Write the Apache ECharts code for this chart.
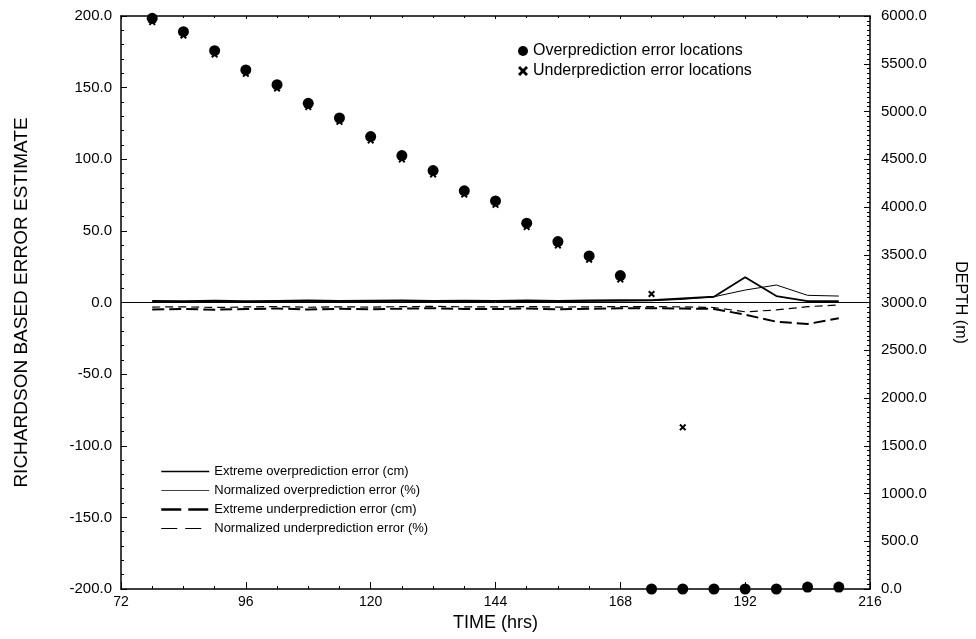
<!DOCTYPE html>
<html>
<head>
<meta charset="utf-8">
<script src="https://cdn.jsdelivr.net/npm/echarts@6/dist/echarts.min.js"></script>
<style>
  html, body { margin: 0; padding: 0; background: #fff; }
  #main { width: 976px; height: 639px; }
</style>
</head>
<body>
<div id="main"></div>
<script>
// sample times (hrs)
var hours = [78, 84, 90, 96, 102, 108, 114, 120, 126, 132, 138, 144, 150, 156, 162, 168, 174, 180, 186, 192, 198, 204, 210]

// error estimates (left axis)
var extremeOver = [1.2, 1.0, 1.3, 1.0, 1.2, 1.4, 1.1, 1.3, 1.5, 1.2, 1.3, 1.1, 1.4, 1.2, 1.5, 1.6, 1.7, 2.9, 4.0, 17.6, 4.5, 1.0, 1.0]
var normOver = [0.6, 0.5, 0.7, 0.5, 0.6, 0.8, 0.6, 0.7, 0.8, 0.6, 0.7, 0.6, 0.7, 0.6, 0.8, 0.9, 1.2, 2.2, 4.0, 8.7, 12.2, 5.0, 4.5]
var extremeUnder = [-4.8, -4.5, -5.0, -4.6, -4.2, -4.9, -4.4, -4.7, -4.3, -4.0, -4.5, -4.6, -4.2, -4.8, -4.4, -4.1, -4.0, -4.2, -4.5, -8.5, -13.4, -15.0, -11.0]
var normUnder = [-3.2, -3.0, -3.5, -3.1, -2.8, -3.3, -3.0, -3.2, -2.9, -2.7, -3.0, -3.1, -2.8, -3.2, -3.0, -2.8, -2.9, -3.0, -3.5, -6.5, -5.2, -2.9, -1.7]

// error locations (right axis, depth m)
var overDepth = [5976, 5836, 5637, 5435, 5281, 5086, 4932, 4737, 4538, 4381, 4170, 4063, 3830, 3638, 3488, 3282, 0, 0, 0, 0, 0, 20, 20]
var underDepth = [5936, 5796, 5597, 5395, 5241, 5046, 4892, 4697, 4498, 4341, 4130, 4023, 3790, 3598, 3448, 3242, 3089, 1693, 0, 0, 0, 0, 0]

var xTicks = [72, 96, 120, 144, 168, 192, 216]

function pairs(ys) {
  return hours.map(function (h, i) { return [h, ys[i]] })
}

var font = 'Liberation Sans, Arial, sans-serif'
var crossPath = 'path://M0,2L2,0L5,3L8,0L10,2L7,5L10,8L8,10L5,7L2,10L0,8L3,5Z'
var noSymbol = { opacity: 0 }

var chart = echarts.init(document.getElementById('main'))

chart.setOption({
  animation: false,
  backgroundColor: '#fff',
  textStyle: { fontFamily: font, color: '#000' },
  grid: { left: 121, right: 104, top: 16, bottom: 50 },
  legend: [{
    // point legend, top right
    left: 518, top: 43, orient: 'vertical', itemGap: 4, padding: 0,
    itemWidth: 10, itemHeight: 10,
    textStyle: { fontFamily: font, fontSize: 16, color: '#000' },
    data: [
      { name: 'Overprediction error locations', icon: 'circle' },
      { name: 'Underprediction error locations', icon: crossPath, itemStyle: { color: '#000' } }
    ]
  }, {
    // line legend, bottom left
    left: 160, top: 465, orient: 'vertical', itemGap: 6, padding: 0,
    itemWidth: 48, itemHeight: 13,
    textStyle: { fontFamily: font, fontSize: 13, color: '#000' },
    data: [
      { name: 'Extreme overprediction error (cm)', itemStyle: noSymbol, lineStyle: { width: 1.6 } },
      { name: 'Normalized overprediction error (%)', itemStyle: noSymbol, lineStyle: { width: 1, color: '#444' } },
      { name: 'Extreme underprediction error (cm)', itemStyle: noSymbol, lineStyle: { width: 2.5, type: [20, 7] } },
      { name: 'Normalized underprediction error (%)', itemStyle: noSymbol, lineStyle: { width: 1.2, type: [16, 8] } }
    ]
  }],
  xAxis: [{
    type: 'value', min: 72, max: 216, interval: 24,
    name: 'TIME (hrs)', nameLocation: 'middle', nameGap: 20,
    nameTextStyle: { fontFamily: font, fontSize: 18, color: '#000' },
    axisLine: { onZero: false, lineStyle: { color: '#000', width: 1.5 } },
    axisTick: { inside: true, length: 7, lineStyle: { color: '#000' } },
    minorTick: { show: true, splitNumber: 4, length: 3, lineStyle: { color: '#000' } },
    axisLabel: {
      margin: 6, fontSize: 14, color: '#000', fontFamily: font,
      formatter: function (v) { return xTicks.indexOf(v) >= 0 ? String(v) : '' }
    },
    splitLine: { show: false }
  }, {
    type: 'value', min: 72, max: 216, interval: 24, position: 'top',
    axisLine: { onZero: false, lineStyle: { color: '#000', width: 1.5 } },
    axisTick: { inside: true, length: 3, lineStyle: { color: '#000' } },
    minorTick: { show: true, splitNumber: 4, length: 2, lineStyle: { color: '#000' } },
    axisLabel: { show: false },
    splitLine: { show: false }
  }],
  yAxis: [{
    type: 'value', min: -200, max: 200, interval: 50,
    name: 'RICHARDSON BASED ERROR ESTIMATE', nameLocation: 'middle', nameGap: 90,
    nameTextStyle: { fontFamily: font, fontSize: 19, color: '#000' },
    axisLine: { onZero: false, lineStyle: { color: '#000', width: 1.5 } },
    axisTick: { inside: true, length: 6, lineStyle: { color: '#000' } },
    minorTick: { show: true, splitNumber: 5, length: 3, lineStyle: { color: '#000' } },
    axisLabel: {
      margin: 9, fontSize: 15, color: '#000', fontFamily: font,
      formatter: function (v) { return v.toFixed(1) }
    },
    splitLine: { show: false }
  }, {
    type: 'value', min: 0, max: 6000, interval: 500, position: 'right',
    name: 'DEPTH (m)', nameLocation: 'middle', nameGap: 82, nameRotate: -90,
    nameTextStyle: { fontFamily: font, fontSize: 16, color: '#000' },
    axisLine: { onZero: false, lineStyle: { color: '#000', width: 1.5 } },
    axisTick: { inside: true, length: 6, lineStyle: { color: '#000' } },
    minorTick: { show: true, splitNumber: 10, length: 3, lineStyle: { color: '#000' } },
    axisLabel: {
      margin: 11, fontSize: 15, color: '#000', fontFamily: font,
      formatter: function (v) { return v.toFixed(1) }
    },
    splitLine: { show: false }
  }],
  series: [{
    name: 'Extreme overprediction error (cm)', type: 'line', yAxisIndex: 0,
    symbol: 'none', data: pairs(extremeOver),
    lineStyle: { color: '#000', width: 1.8 }, itemStyle: { color: '#000' },
    markLine: {
      silent: true, symbol: 'none', label: { show: false },
      lineStyle: { color: '#000', width: 1, type: 'solid' },
      data: [{ yAxis: 0 }]
    }
  }, {
    name: 'Normalized overprediction error (%)', type: 'line', yAxisIndex: 0,
    symbol: 'none', data: pairs(normOver),
    lineStyle: { color: '#000', width: 1 }, itemStyle: { color: '#000' }
  }, {
    name: 'Extreme underprediction error (cm)', type: 'line', yAxisIndex: 0,
    symbol: 'none', data: pairs(extremeUnder),
    lineStyle: { color: '#000', width: 2, type: [12, 5] }, itemStyle: { color: '#000' }
  }, {
    name: 'Normalized underprediction error (%)', type: 'line', yAxisIndex: 0,
    symbol: 'none', data: pairs(normUnder),
    lineStyle: { color: '#000', width: 1.2, type: [8, 5] }, itemStyle: { color: '#000' }
  }, {
    name: 'Underprediction error locations', type: 'scatter', yAxisIndex: 1,
    symbol: crossPath, symbolSize: 7, data: pairs(underDepth),
    itemStyle: { color: '#000', opacity: 1 }, z: 3
  }, {
    name: 'Overprediction error locations', type: 'scatter', yAxisIndex: 1,
    symbol: 'circle', symbolSize: 11, data: pairs(overDepth),
    itemStyle: { color: '#000', opacity: 1 }, z: 4
  }]
})
</script>
</body>
</html>
